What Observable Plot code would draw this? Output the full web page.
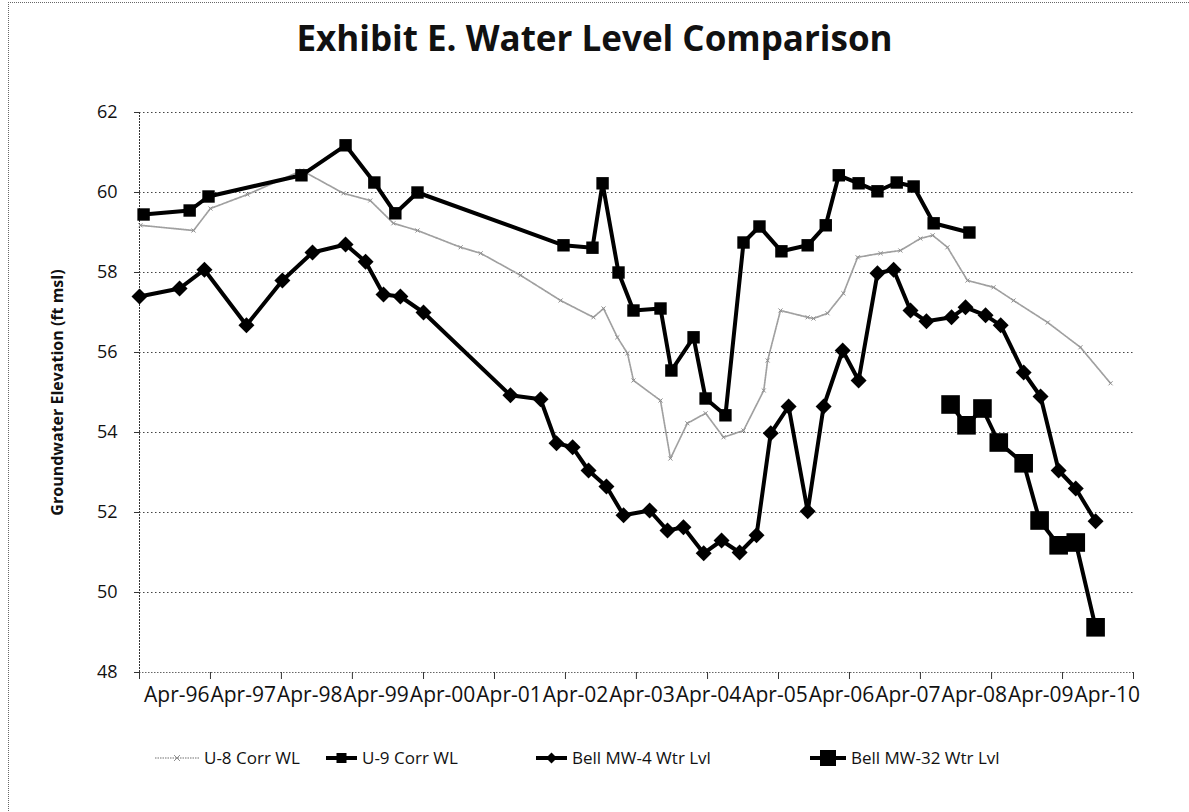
<!DOCTYPE html>
<html><head><meta charset="utf-8">
<script src="https://cdn.jsdelivr.net/npm/d3@7"></script>
<script src="https://cdn.jsdelivr.net/npm/@observablehq/plot@0.6"></script>
<style>
body{margin:0;background:#fff;font-family:"Open Sans",sans-serif;color:#111;}
#wrap{position:relative;width:1189px;height:812px;overflow:hidden;background:#fff;}
#border{position:absolute;left:8px;top:2px;width:1200px;height:820px;border-left:1px dotted #666;border-top:1px dotted #666;}
#title{position:absolute;left:0;width:1189px;top:15px;text-align:center;font-weight:bold;font-size:35px;line-height:46px;color:#111;}
#chart{position:absolute;left:0;top:95px;}
.leg{position:absolute;top:746px;height:24px;font-size:17px;line-height:24px;display:flex;align-items:center;white-space:nowrap;}
.leg svg{display:block;}
</style></head><body>
<div id="wrap">
  <div id="border"></div>
  <div id="title">Exhibit E. Water Level Comparison</div>
  <div id="chart"></div>
</div>
<script>
// ---- Data ----
const seriesNames = ["U-8 Corr WL", "U-9 Corr WL", "Bell MW-4 Wtr Lvl", "Bell MW-32 Wtr Lvl"];
const yLabel = "Groundwater Elevation (ft msl)";
const yTicks = [48, 50, 52, 54, 56, 58, 60, 62];
const xTickDates = ["1996-04-01","1997-04-01","1998-04-01","1999-04-01","2000-04-01","2001-04-01","2002-04-01",
  "2003-04-01","2004-04-01","2005-04-01","2006-04-01","2007-04-01","2008-04-01","2009-04-01","2010-04-01"];

const u8Dates = ["1996-04-06","1997-01-04","1997-04-01","1997-10-08","1998-07-15","1999-02-14","1999-07-02","1999-10-29",
  "2000-03-01","2000-10-09","2001-01-20","2001-08-13","2002-03-07","2002-08-23","2002-10-14","2002-12-24","2003-02-14",
  "2003-03-17","2003-08-03","2003-09-23","2003-12-19","2004-03-22","2004-06-22","2004-10-03","2005-01-15","2005-02-04",
  "2005-04-11","2005-08-29","2005-09-28","2005-12-09","2006-03-01","2006-05-13","2006-09-08","2006-12-19","2007-04-01",
  "2007-06-03","2007-08-18","2007-11-29","2008-04-11","2008-07-23","2009-01-15","2009-07-02","2009-12-04"];
const u8Vals = [59.18,59.05,59.6,59.95,60.55,59.98,59.8,59.23,
  59.05,58.63,58.48,57.93,57.3,56.88,57.1,56.38,55.98,
  55.3,54.8,53.35,54.23,54.48,53.88,54.05,55.05,55.8,
  57.05,56.88,56.85,56.98,57.48,58.38,58.48,58.55,58.85,
  58.93,58.63,57.8,57.63,57.3,56.75,56.13,55.23];

const u9Dates = ["1996-04-22","1996-12-15","1997-03-22","1998-07-13","1999-02-25","1999-07-23","1999-11-08","2000-03-01",
  "2002-03-22","2002-08-18","2002-10-09","2002-12-30","2003-03-17","2003-08-03","2003-09-28","2004-01-20","2004-03-22",
  "2004-07-02","2004-10-03","2004-12-24","2005-04-16","2005-08-29","2005-11-30","2006-02-05","2006-05-18","2006-08-23",
  "2006-11-30","2007-02-25","2007-06-08","2007-12-09"];
const u9Vals = [59.45,59.55,59.9,60.43,61.18,60.25,59.48,60.0,
  58.68,58.62,60.23,58.0,57.05,57.1,55.55,56.38,54.85,
  54.43,58.75,59.15,58.53,58.68,59.18,60.43,60.23,60.03,
  60.25,60.15,59.23,59.0];

const mw4Dates = ["1996-04-01","1996-10-24","1997-03-01","1997-10-03","1998-04-06","1998-09-08","1999-02-25","1999-06-08",
  "1999-09-08","1999-12-04","2000-04-01","2001-06-22","2001-11-24","2002-02-14","2002-05-08","2002-07-29","2002-10-29",
  "2003-01-25","2003-06-08","2003-09-08","2003-11-29","2004-03-12","2004-06-12","2004-09-13","2004-12-09","2005-02-20",
  "2005-05-23","2005-08-29","2005-11-19","2006-02-25","2006-05-18","2006-08-23","2006-11-14","2007-02-09","2007-05-02",
  "2007-09-08","2007-11-19","2008-03-01","2008-05-18","2008-09-13","2008-12-09","2009-03-12","2009-06-08","2009-09-18"];
const mw4Vals = [57.4,57.6,58.07,56.68,57.8,58.5,58.7,58.27,
  57.45,57.4,57.0,54.93,54.83,53.73,53.63,53.05,52.65,
  51.93,52.05,51.55,51.63,50.98,51.3,51.0,51.43,53.98,
  54.65,52.03,54.65,56.05,55.3,57.98,58.07,57.05,56.78,
  56.88,57.13,56.93,56.68,55.5,54.9,53.05,52.6,51.78];

const mw32Dates = ["2007-09-03","2007-11-24","2008-02-14","2008-05-08","2008-09-13","2008-12-04","2009-03-12","2009-06-08","2009-09-18"];
const mw32Vals = [54.7,54.18,54.6,53.75,53.23,51.8,51.18,51.25,49.13];

// ---- Build ----
const parse = d3.utcParse("%Y-%m-%d");
const rows = (dates, vals) => dates.map((d, i) => ({date: parse(d), value: vals[i]}));
const u8 = rows(u8Dates, u8Vals), u9 = rows(u9Dates, u9Vals), mw4 = rows(mw4Dates, mw4Vals), mw32 = rows(mw32Dates, mw32Vals);
const xTicks = xTickDates.map(parse);

const plot = Plot.plot({
  width: 1189, height: 640,
  marginLeft: 139, marginRight: 56, marginTop: 17, marginBottom: 63,
  style: {fontFamily: "Open Sans, sans-serif", fontSize: "17px", color: "#111", background: "transparent", overflow: "visible"},
  x: {type: "utc", domain: [xTicks[0], xTicks[xTicks.length - 1]]},
  y: {domain: [48, 62]},
  marks: [
    Plot.gridY(yTicks.filter(v => v > 48), {stroke: "#444", strokeOpacity: 1, strokeDasharray: "1.5,2.5", strokeWidth: 1}),
    Plot.ruleY([48], {stroke: "#666", strokeDasharray: "1.5,1.5"}),
    Plot.ruleX([xTicks[0]], {stroke: "#333", strokeDasharray: "2,1"}),
    Plot.axisY({ticks: yTicks, tickSize: 5, tickPadding: 17, label: null, fontSize: 18, stroke: "#333"}),
    Plot.axisX({ticks: xTicks, tickFormat: d3.utcFormat("%b-%y"), tickSize: 7, tickPadding: 8, label: null, fontSize: 21, stroke: "#333"}),
    Plot.text([yLabel], {frameAnchor: "left", textAnchor: "middle", dx: -82, rotate: -90, fontWeight: "bold", fontSize: 16}),
    // U-8
    Plot.line(u8, {x: "date", y: "value", stroke: "#a0a0a0", strokeWidth: 1.7, strokeDasharray: "1.5,1"}),
    Plot.dot(u8, {x: "date", y: "value", symbol: "times", r: 2, stroke: "#909090", strokeWidth: 1}),
    // U-9
    Plot.line(u9, {x: "date", y: "value", stroke: "#000", strokeWidth: 4}),
    Plot.dot(u9, {x: "date", y: "value", symbol: "square", r: 7, fill: "#000"}),
    // MW-4
    Plot.line(mw4, {x: "date", y: "value", stroke: "#000", strokeWidth: 4}),
    Plot.dot(mw4, {x: "date", y: "value", symbol: "diamond2", r: 7.2, fill: "#000", stroke: "none"}),
    // MW-32
    Plot.line(mw32, {x: "date", y: "value", stroke: "#000", strokeWidth: 4}),
    Plot.dot(mw32, {x: "date", y: "value", symbol: "square", r: 10.5, fill: "#000"})
  ]
});
document.getElementById("chart").appendChild(plot);

// The reference packs its date labels edge to edge between the axis ends:
// re-space the label positions (not the ticks) to that layout.
const xs = plot.scale("x");
const x0 = xs.apply(xTicks[0]), x1 = xs.apply(xTicks[xTicks.length - 1]);
const labelSpan = [x0 + 4, x1 + 7];
const slot = (labelSpan[1] - labelSpan[0]) / xTicks.length;
plot.querySelectorAll('g[aria-label="x-axis tick label"] text').forEach((t, i) => {
  const m = /translate\(([^,]+),([^)]+)\)/.exec(t.getAttribute("transform") || "");
  if (!m) return;
  const nx = labelSpan[0] + slot * (i + 0.5);
  t.setAttribute("transform", `translate(${nx},${m[2]})`);
});

// ---- Legend ----
const legendLayout = [
  {left: 155, len: 44, kind: "u8"},
  {left: 326, len: 31, kind: "sq", size: 10},
  {left: 536, len: 31, kind: "dia", size: 11},
  {left: 810, len: 36, kind: "sq", size: 16}
];
const wrap = document.getElementById("wrap");
seriesNames.forEach((name, i) => {
  const L = legendLayout[i];
  const div = document.createElement("div");
  div.className = "leg";
  div.style.left = L.left + "px";
  const h = 24, cy = 12, cx = L.len / 2;
  let sw = `<svg width="${L.len + 3}" height="${h}">`;
  if (L.kind === "u8") {
    sw += `<line x1="0" y1="${cy}" x2="${L.len}" y2="${cy}" stroke="#a0a0a0" stroke-width="1.7" stroke-dasharray="1.5,1"/>`;
    sw += `<path d="M${cx-3},${cy-3}L${cx+3},${cy+3}M${cx-3},${cy+3}L${cx+3},${cy-3}" stroke="#909090"/>`;
  } else {
    sw += `<line x1="0" y1="${cy}" x2="${L.len}" y2="${cy}" stroke="#000" stroke-width="4"/>`;
    const s = L.size;
    if (L.kind === "sq") sw += `<rect x="${cx - s/2}" y="${cy - s/2}" width="${s}" height="${s}" fill="#000"/>`;
    else sw += `<path d="M${cx},${cy - s/2}L${cx + s/2},${cy}L${cx},${cy + s/2}L${cx - s/2},${cy}Z" fill="#000"/>`;
  }
  sw += `</svg>`;
  div.innerHTML = sw + `<span style="margin-left:2px">${name}</span>`;
  wrap.appendChild(div);
});
</script>
</body></html>
